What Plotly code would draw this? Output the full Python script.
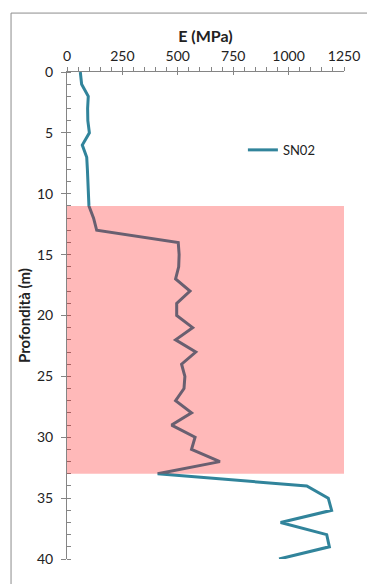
import plotly.graph_objects as go

# Profilo del modulo elastico E lungo la verticale SN02
depth_m = list(range(0, 41))
modulus_mpa = [
    60, 66, 96, 93, 94, 101, 69, 89, 92, 94,
    96, 99, 120, 134, 502, 506, 504, 490, 555, 495,
    495, 567, 490, 581, 517, 532, 528, 490, 562, 472,
    578, 562, 690, 409, 1082, 1179, 1194, 964, 1172, 1184,
    957,
]
series_name = "SN02"
band_top_m, band_bottom_m = 11, 33
x_ticks = [0, 250, 500, 750, 1000, 1250]
y_ticks = [0, 5, 10, 15, 20, 25, 30, 35, 40]

FONT = "Lato"
AXIS_GREY = "#858585"
LINE_COLOR = "#31849B"

fig = go.Figure()
fig.add_trace(go.Scatter(
    x=modulus_mpa, y=depth_m, mode="lines", name=series_name,
    line=dict(color=LINE_COLOR, width=3),
    showlegend=True,
))

# Fascia evidenziata (semi-trasparente, sopra la curva)
fig.add_shape(
    type="rect", xref="x", yref="y",
    x0=x_ticks[0], x1=x_ticks[-1], y0=band_top_m, y1=band_bottom_m,
    fillcolor="rgba(255,0,0,0.275)", line=dict(width=0), layer="above",
)

# Cornice esterna del grafico
fig.add_shape(
    type="rect", xref="paper", yref="paper",
    x0=-0.202, x1=1.3, y0=-0.2, y1=1.121,
    line=dict(color="#8c8c8c", width=1), fillcolor="rgba(0,0,0,0)", layer="below",
)

common_x = dict(range=[0, 1250], showgrid=False, zeroline=False, automargin=False)
common_y = dict(range=[40, 0], showgrid=False, zeroline=False, automargin=False)

fig.update_layout(
    width=367, height=584,
    margin=dict(l=67, r=23, t=72, b=25, autoexpand=False),
    paper_bgcolor="white", plot_bgcolor="white",
    font=dict(family=FONT, size=14, color="#222222"),
    xaxis=dict(
        **common_x, side="top", tickvals=x_ticks, ticks="outside", ticklen=4,
        tickcolor=AXIS_GREY, showline=True, linecolor=AXIS_GREY, linewidth=1,
        minor=dict(dtick=50, ticks="outside", ticklen=4, tickcolor=AXIS_GREY),
        tickfont=dict(size=14, family=FONT, color="#222222"),
        title=dict(text="<b>E (MPa)</b>", standoff=0,
                   font=dict(size=16, family=FONT, color="#222222")),
    ),
    xaxis2=dict(
        **common_x, overlaying="x", side="top", tickvals=x_ticks, ticks="inside",
        ticklen=3, tickcolor=AXIS_GREY, showticklabels=False, showline=False,
    ),
    yaxis=dict(
        **common_y, tickvals=y_ticks, ticks="outside", ticklen=5,
        tickcolor=AXIS_GREY, showline=True, linecolor=AXIS_GREY, linewidth=1,
        minor=dict(dtick=1, ticks="inside", ticklen=4, tickcolor=AXIS_GREY),
        tickfont=dict(size=14, family=FONT, color="#222222"),
        ticklabelstandoff=5,
        title=dict(text="<b>Profondità (m)</b>", standoff=2,
                   font=dict(size=15, family=FONT, color="#222222")),
    ),
    yaxis2=dict(
        **common_y, overlaying="y", tickvals=y_ticks, ticks="inside", ticklen=4,
        tickcolor=AXIS_GREY, showticklabels=False, showline=False,
    ),
    legend=dict(
        x=0.635, y=0.84, xanchor="left", yanchor="middle",
        bgcolor="rgba(0,0,0,0)", font=dict(size=13, family=FONT, color="#222222"),
    ),
)

# Traccia invisibile che attiva gli assi sovrapposti
fig.add_trace(go.Scatter(x=[None], y=[None], xaxis="x2", yaxis="y2",
                         showlegend=False, hoverinfo="skip"))

fig.write_html("out.html")
